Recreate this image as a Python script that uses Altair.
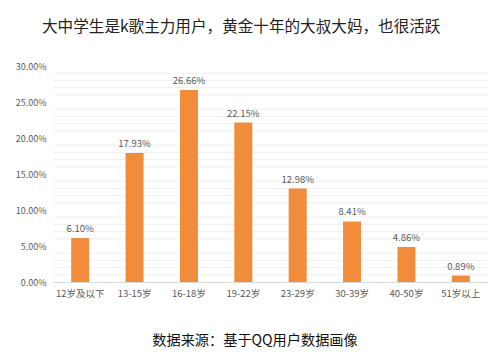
import altair as alt
import pandas as pd

categories = ["12岁及以下", "13-15岁", "16-18岁", "19-22岁", "23-29岁", "30-39岁", "40-50岁", "51岁以上"]
shares = [0.0610, 0.1793, 0.2666, 0.2215, 0.1298, 0.0841, 0.0486, 0.0089]
major_ticks = [0.0, 0.05, 0.10, 0.15, 0.20, 0.25, 0.30]
minor_ticks = [i / 100 for i in range(1, 30) if i % 5 != 0]
title_text = "大中学生是k歌主力用户，黄金十年的大叔大妈，也很活跃"
footer_text = "数据来源：基于QQ用户数据画像"

FONT = "Noto Sans CJK SC"
df = pd.DataFrame({"cat": categories, "v": shares})
yscale = alt.Scale(domain=[0, 0.30], nice=False)
yaxis = alt.Axis(values=major_ticks, format=".2%", labelFont=FONT,
                 labelFontSize=9, labelColor="#595959", labelPadding=7,
                 labelOverlap=False, ticks=False, domain=False,
                 gridColor="#d9d9d9", orient="left")

minor = alt.Chart(pd.DataFrame({"m": minor_ticks})).mark_rule(
    color="#f0f0f0", strokeWidth=1
).encode(y=alt.Y("m:Q", scale=yscale, axis=None, title=None))

bars = alt.Chart(df).mark_bar(color="#F08C3A", width=18).encode(
    x=alt.X("cat:N", sort=categories, title=None,
            scale=alt.Scale(paddingInner=0.2, paddingOuter=0.1),
            axis=alt.Axis(labelAngle=0, labelFont=FONT, labelFontSize=9.5,
                          labelColor="#595959", labelPadding=6, ticks=False,
                          domainColor="#d9d9d9", grid=False)),
    y=alt.Y("v:Q", scale=yscale, title=None, axis=yaxis),
)

labels = alt.Chart(df).mark_text(
    baseline="bottom", dy=-4, font=FONT, fontSize=9.5, color="#595959"
).encode(
    x=alt.X("cat:N", sort=categories),
    y=alt.Y("v:Q", scale=yscale, axis=None),
    text=alt.Text("v:Q", format=".2%"),
)

title = alt.Chart(pd.DataFrame({"t": [title_text]})).mark_text(
    align="left", baseline="alphabetic", font=FONT, fontSize=15.6, color="#222222"
).encode(text="t:N", x=alt.value(-11), y=alt.value(-34))

footer = alt.Chart(pd.DataFrame({"t": [footer_text]})).mark_text(
    align="center", baseline="middle", font=FONT, fontSize=14.2, color="#111111"
).encode(text="t:N", x=alt.value(202), y=alt.value(59 + 216))

chart = alt.layer(minor, bars, labels, title, footer).resolve_axis(
    y="independent"
).properties(
    width=435, height=216,
    autosize=alt.AutoSizeParams(type="none"),
    padding={"left": 53, "top": 66, "right": 12, "bottom": 73},
    background="white",
).configure_view(stroke=None)

chart.save("out.html", embed_options={"renderer": "svg", "actions": False})
